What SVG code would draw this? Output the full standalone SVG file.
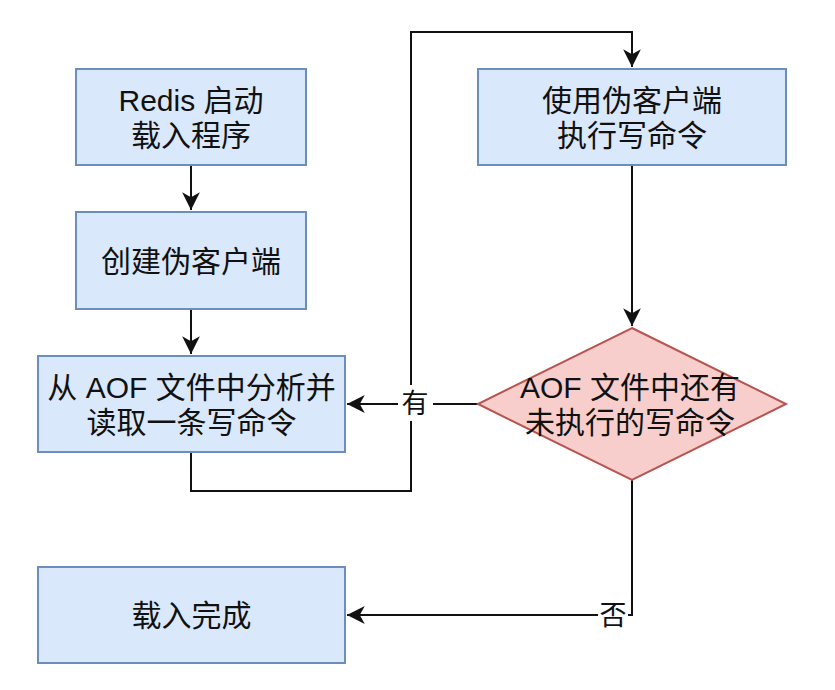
<svg xmlns="http://www.w3.org/2000/svg" width="835" height="690" viewBox="0 0 835 690">
<style>
.box{fill:#dae8fc;stroke:#6c8ebf;stroke-width:2}
.dia{fill:#f8cecc;stroke:#b85450;stroke-width:2}
.t{font-family:"Liberation Sans","Noto Sans CJK SC",sans-serif;font-size:30px;fill:#111;text-anchor:middle}
.lbl{font-family:"Liberation Sans","Noto Sans CJK SC",sans-serif;font-size:27px;fill:#111;text-anchor:middle}
.e{fill:none;stroke:#111;stroke-width:2}
</style>
<defs>
<marker id="arr" markerUnits="userSpaceOnUse" markerWidth="20" markerHeight="20" viewBox="-17 -9 18 18" refX="0" refY="0" orient="auto">
<path d="M0,0 L-16,-8 L-11.5,0 L-16,8 Z" fill="#111"/>
</marker>
</defs>
<rect width="835" height="690" fill="#fff"/>
<g id="edges">
<path class="e" d="M191,165 V210" marker-end="url(#arr)"/>
<path class="e" d="M191,309 V354" marker-end="url(#arr)"/>
<path class="e" d="M191,452 V491 H411 V32 H632 V67" marker-end="url(#arr)"/>
<path class="e" d="M632,165 V326" marker-end="url(#arr)"/>
<path class="e" d="M478,404 H347" marker-end="url(#arr)"/>
<path class="e" d="M632,480 V615 H347" marker-end="url(#arr)"/>
<g id="label-yes">
<rect x="398" y="385" width="35" height="36" fill="#fff"/>
<text class="lbl" x="415" y="413">有</text>
</g>
<g id="label-no">
<rect x="598" y="599" width="30" height="32" fill="#fff"/>
<text class="lbl" x="613" y="625">否</text>
</g>
</g>
<g id="n1">
<rect class="box" x="76" y="69" width="230" height="96"/>
<text class="t" x="191" y="111">Redis 启动</text>
<text class="t" x="191" y="146">载入程序</text>
</g>
<g id="n2">
<rect class="box" x="76" y="212" width="230" height="97"/>
<text class="t" x="191" y="272">创建伪客户端</text>
</g>
<g id="n3">
<rect class="box" x="38" y="356" width="307" height="96"/>
<text class="t" x="191.5" y="398">从 AOF 文件中分析并</text>
<text class="t" x="191.5" y="433">读取一条写命令</text>
</g>
<g id="n4">
<rect class="box" x="38" y="567" width="307" height="96"/>
<text class="t" x="191.5" y="626">载入完成</text>
</g>
<g id="n5">
<rect class="box" x="478" y="69" width="308" height="96"/>
<text class="t" x="632" y="111">使用伪客户端</text>
<text class="t" x="632" y="146">执行写命令</text>
</g>
<g id="n6">
<polygon class="dia" points="632,328 786,404 632,480 478,404"/>
<text class="t" x="630" y="398">AOF 文件中还有</text>
<text class="t" x="630" y="433">未执行的写命令</text>
</g>
</svg>
